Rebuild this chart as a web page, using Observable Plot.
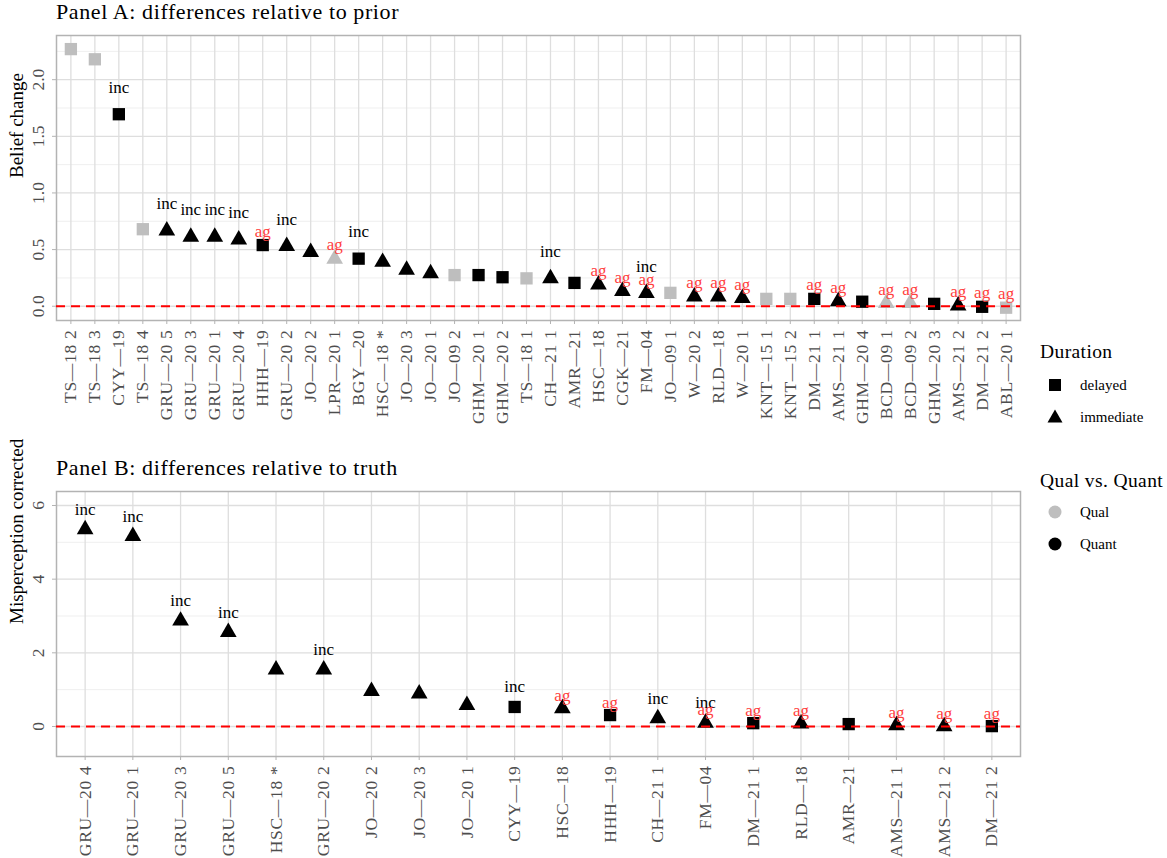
<!DOCTYPE html>
<html>
<head>
<meta charset="utf-8">
<script src="https://cdn.jsdelivr.net/npm/d3@7"></script>
<script src="https://cdn.jsdelivr.net/npm/@observablehq/plot@0.6"></script>
<style>
  body { margin: 0; background: #fff; font-family: "Liberation Serif", serif; }
  #root { position: relative; width: 1167px; height: 858px; overflow: hidden; background: #fff; }
  .title { position: absolute; left: 56px; font-size: 22px; line-height: 1; color: #000; white-space: nowrap; letter-spacing: 0.6px; }
  .panel { position: absolute; left: 0; }
  .panel svg g[aria-label="x-axis tick label"] text { letter-spacing: 0.7px; }
  #legend { position: absolute; left: 1030px; top: 330px; }
  #legend text { font-family: "Liberation Serif", serif; }
</style>
</head>
<body>
<div id="root">
  <div class="title" style="top:1px">Panel A: differences relative to prior</div>
  <div id="pa" class="panel" style="top:30px"></div>
  <div class="title" style="top:457px">Panel B: differences relative to truth</div>
  <div id="pb" class="panel" style="top:486px"></div>
  <svg id="legend" width="137" height="240">
    <text x="10" y="28" font-size="19.5" letter-spacing="0.4">Duration</text>
    <rect x="19" y="49" width="12" height="12" fill="#000"></rect>
    <text x="50" y="60" font-size="15">delayed</text>
    <path d="M25,79.5 L32.5,92.5 L17.5,92.5 Z" fill="#000"></path>
    <text x="50" y="92" font-size="15">immediate</text>
    <text x="10" y="157" font-size="19.5" letter-spacing="0.4">Qual vs. Quant</text>
    <circle cx="25" cy="182" r="6.5" fill="#BEBEBE"></circle>
    <text x="50" y="187" font-size="15">Qual</text>
    <circle cx="25" cy="214" r="6.5" fill="#000"></circle>
    <text x="50" y="219" font-size="15">Quant</text>
  </svg>
</div>
<script>
// ---------------- Panel A data ----------------
const catsA = ["TS—18 2","TS—18 3","CYY—19","TS—18 4","GRU—20 5","GRU—20 3","GRU—20 1","GRU—20 4","HHH—19","GRU—20 2",
  "JO—20 2","LPR—20 1","BGY—20","HSC—18 *","JO—20 3","JO—20 1","JO—09 2","GHM—20 1","GHM—20 2","TS—18 1",
  "CH—21 1","AMR—21","HSC—18","CGK—21","FM—04","JO—09 1","W—20 2","RLD—18","W—20 1","KNT—15 1",
  "KNT—15 2","DM—21 1","AMS—21 1","GHM—20 4","BCD—09 1","BCD—09 2","GHM—20 3","AMS—21 2","DM—21 2","ABL—20 1"];
const valuesA = [2.27,2.18,1.695,0.68,0.667,0.612,0.612,0.588,0.54,0.53,
  0.478,0.417,0.42,0.39,0.321,0.29,0.275,0.275,0.256,0.246,
  0.245,0.206,0.19,0.133,0.115,0.118,0.084,0.084,0.07,0.065,
  0.065,0.065,0.042,0.04,0.027,0.027,0.021,0.005,-0.005,-0.013];
const durationA = ["delayed","delayed","delayed","delayed","immediate","immediate","immediate","immediate","delayed","immediate",
  "immediate","immediate","delayed","immediate","immediate","immediate","delayed","delayed","delayed","delayed",
  "immediate","delayed","immediate","immediate","immediate","delayed","immediate","immediate","immediate","delayed",
  "delayed","delayed","immediate","delayed","immediate","immediate","delayed","immediate","delayed","delayed"];
const typeA = ["Qual","Qual","Quant","Qual","Quant","Quant","Quant","Quant","Quant","Quant",
  "Quant","Qual","Quant","Quant","Quant","Quant","Qual","Quant","Quant","Qual",
  "Quant","Quant","Quant","Quant","Quant","Qual","Quant","Quant","Quant","Qual",
  "Qual","Quant","Quant","Quant","Qual","Qual","Quant","Quant","Quant","Qual"];
const incA = ["","","inc","","inc","inc","inc","inc","","inc",
  "","","inc","","","","","","","",
  "inc","","","","inc","","","","","",
  "","","","","","","","","",""];
const agA = ["","","","","","","","","ag","",
  "","ag","","","","","","","","",
  "","","ag","ag","ag","","ag","ag","ag","",
  "","ag","ag","","ag","ag","","ag","ag","ag"];
const majorA = [0, 0.5, 1, 1.5, 2];
const minorA = [0.25, 0.75, 1.25, 1.75, 2.25];

// ---------------- Panel B data ----------------
const catsB = ["GRU—20 4","GRU—20 1","GRU—20 3","GRU—20 5","HSC—18 *","GRU—20 2","JO—20 2","JO—20 3","JO—20 1","CYY—19",
  "HSC—18","HHH—19","CH—21 1","FM—04","DM—21 1","RLD—18","AMR—21","AMS—21 1","AMS—21 2","DM—21 2"];
const valuesB = [5.35,5.17,2.87,2.56,1.54,1.54,0.96,0.89,0.58,0.53,
  0.49,0.31,0.22,0.095,0.09,0.076,0.065,0.03,0.003,0.01];
const durationB = ["immediate","immediate","immediate","immediate","immediate","immediate","immediate","immediate","immediate","delayed",
  "immediate","delayed","immediate","immediate","delayed","immediate","delayed","immediate","immediate","delayed"];
const typeB = ["Quant","Quant","Quant","Quant","Quant","Quant","Quant","Quant","Quant","Quant",
  "Quant","Quant","Quant","Quant","Quant","Quant","Quant","Quant","Quant","Quant"];
const incB = ["inc","inc","inc","inc","","inc","","","","inc",
  "","","inc","inc","","","","","",""];
const agB = ["","","","","","","","","","",
  "ag","ag","","ag","ag","ag","","ag","ag","ag"];
const majorB = [0, 2, 4, 6];
const minorB = [1, 3, 5];

const toRows = (cats, vals, dur, type, inc, ag) =>
  cats.map((c, i) => ({cat: c, value: vals[i], duration: dur[i], type: type[i], inc: inc[i], ag: ag[i]}));

function panel({rows, cats, yDomain, major, minor, fmt, yLabel, height, marginBottom, incDy, agDy}) {
  return Plot.plot({
    width: 1030, height, marginLeft: 56, marginRight: 10, marginTop: 5, marginBottom,
    x: {type: "point", domain: cats, padding: 0.6, round: false, label: null},
    y: {domain: yDomain, label: null},
    color: {domain: ["Qual", "Quant"], range: ["#BEBEBE", "#000000"]},
    style: {fontFamily: "Liberation Serif, serif", fontSize: "16px", background: "transparent", overflow: "visible"},
    marks: [
      Plot.ruleY(minor, {stroke: "#EBEBEB", strokeWidth: 0.8}),
      Plot.ruleY(major, {stroke: "#DEDEDE", strokeWidth: 1.3}),
      Plot.ruleX(cats, {stroke: "#DEDEDE", strokeWidth: 1.3}),
      Plot.frame({stroke: "#B3B3B3", strokeWidth: 1.5}),
      Plot.axisX({tickRotate: -90, tickSize: 4, tickPadding: 5, fontSize: 17.5, stroke: "#B3B3B3", fill: "#4D4D4D", label: null}),
      Plot.axisY({ticks: major, tickFormat: fmt, tickRotate: -90, tickSize: 4, tickPadding: 9, fontSize: 17.5, stroke: "#B3B3B3", fill: "#4D4D4D", label: null}),
      Plot.text([yLabel], {frameAnchor: "left", rotate: -90, dx: -40, fontSize: 19, fill: "#000"}),
      Plot.dot(rows.filter(d => d.duration === "delayed"), {x: "cat", y: "value", symbol: "square", r: 6.94, fill: "type"}),
      Plot.dot(rows.filter(d => d.duration === "immediate"), {x: "cat", y: "value", symbol: "triangle", r: 6.2, fill: "type"}),
      Plot.ruleY([0], {stroke: "#FF0000", strokeWidth: 2, strokeDasharray: "9,6"}),
      Plot.text(rows.filter(d => d.inc), {x: "cat", y: "value", text: "inc", dy: incDy, fontSize: 17, fill: "#000"}),
      Plot.text(rows.filter(d => d.ag), {x: "cat", y: "value", text: "ag", dy: agDy, fontSize: 17, fill: "#FF4040"})
    ]
  });
}

document.getElementById("pa").appendChild(panel({
  rows: toRows(catsA, valuesA, durationA, typeA, incA, agA), cats: catsA,
  yDomain: [-0.126, 2.39], major: majorA, minor: minorA, fmt: d3.format(".1f"),
  yLabel: "Belief change", height: 395, marginBottom: 105, incDy: -27, agDy: -14
}));
document.getElementById("pb").appendChild(panel({
  rows: toRows(catsB, valuesB, durationB, typeB, incB, agB), cats: catsB,
  yDomain: [-0.815, 6.38], major: majorB, minor: minorB, fmt: d3.format("d"),
  yLabel: "Misperception corrected", height: 370, marginBottom: 100, incDy: -20, agDy: -13
}));
</script>
</body>
</html>
